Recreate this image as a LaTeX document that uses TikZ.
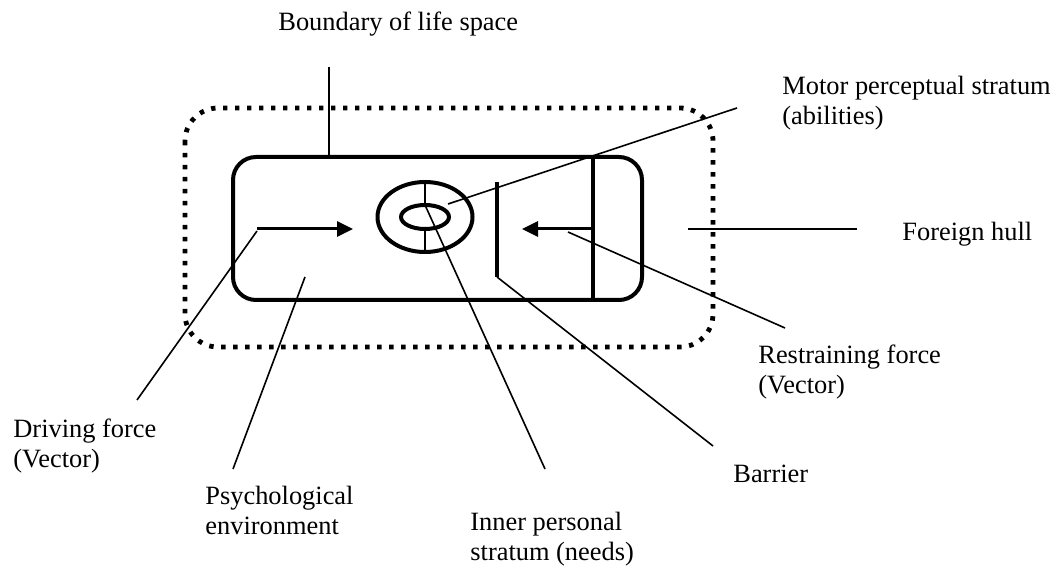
\documentclass[tikz,border=0pt]{standalone}
\usepackage{fontspec}
\setmainfont{Liberation Serif}
\usetikzlibrary{arrows.meta,shapes.geometric}
\begin{document}
\begin{tikzpicture}[x=0.5pt,y=-0.5pt,line join=round]%life space
            \tikzset{
                hull_line/.style={line width=2.4pt,dash pattern=on 2.2pt off 3.8pt},
                env_line/.style={line width=2pt},
                leader/.style={line width=0.8pt},
                force/.style={line width=1.5pt,-{Triangle[length=8pt,width=7.5pt]}},
                stratum/.style={draw,ellipse,inner sep=0pt,outer sep=0pt,line width=2pt},
                lbl/.style={anchor=north west,inner sep=0pt,align=left,font=\fontsize{13.2}{15}\selectfont}
            }
            \useasboundingbox (0,0) rectangle (1054,566);
            % foreign hull and psychological environment
            \draw[hull_line,rounded corners=16.5pt] (185,108) rectangle (713,347);
            \draw[env_line,rounded corners=11.5pt] (233,157) rectangle (642,300);
            \coordinate (wall_t) at (593,157);
            \coordinate (wall_b) at (593,300);
            \coordinate (bar_t) at (497,182);
            \coordinate (bar_b) at (497,277);
            \draw[env_line] (wall_t) -- (wall_b);
            \draw[env_line] (bar_t) -- (bar_b);
            % person
            \node[stratum,minimum width=47.5pt,minimum height=35pt] (outer) at (425,217) {};
            \node[stratum,minimum width=24pt,minimum height=12pt] (inner) at (425,217) {};
            \draw[leader] (outer.north) -- (inner.north) (inner.south) -- (outer.south);
            % vectors
            \coordinate (drv_a) at (257,229);
            \coordinate (drv_b) at (353,229);
            \coordinate (rst_a) at (593,229);
            \coordinate (rst_b) at (522,229);
            \draw[force] (drv_a) -- (drv_b);
            \draw[force] (rst_a) -- (rst_b);
            % labels
            \node[lbl] (boundary) at (278,9) {\strut Boundary of life space};
            \node[lbl] (motor) at (782,73) {\strut Motor perceptual stratum\\\strut (abilities)};
            \node[lbl] (foreign) at (902,219) {\strut Foreign hull};
            \node[lbl] (restrain) at (758,342) {\strut Restraining force\\\strut (Vector)};
            \node[lbl] (driving) at (13,416) {\strut Driving force\\\strut (Vector)};
            \node[lbl] (psych) at (205,483) {\strut Psychological\\\strut environment};
            \node[lbl] (needs) at (470,509) {\strut Inner personal\\\strut stratum (needs)};
            \node[lbl] (barrier) at (733,461) {\strut Barrier};
            % leader lines
            \path (329,67) coordinate (boundary_e)
            (329,157) coordinate (boundary_s)
            (448,204) coordinate (motor_s)
            (737,108) coordinate (motor_e)
            (688,229) coordinate (foreign_s)
            (857,229) coordinate (foreign_e)
            (568,232) coordinate (restrain_s)
            (785,328) coordinate (restrain_e)
            (257,231) coordinate (driving_s)
            (137,400) coordinate (driving_e)
            (305,277) coordinate (psych_s)
            (233,469) coordinate (psych_e)
            (545,469) coordinate (needs_e)
            (713,446) coordinate (barrier_e);
            \draw[leader] (boundary_s) -- (boundary_e);
            \draw[leader] (motor_s) -- (motor_e);
            \draw[leader] (foreign_s) -- (foreign_e);
            \draw[leader] (restrain_s) -- (restrain_e);
            \draw[leader] (driving_s) -- (driving_e);
            \draw[leader] (psych_s) -- (psych_e);
            \draw[leader] (inner.north) -- (needs_e);
            \draw[leader] (bar_b) -- (barrier_e);
\end{tikzpicture}
\end{document}
